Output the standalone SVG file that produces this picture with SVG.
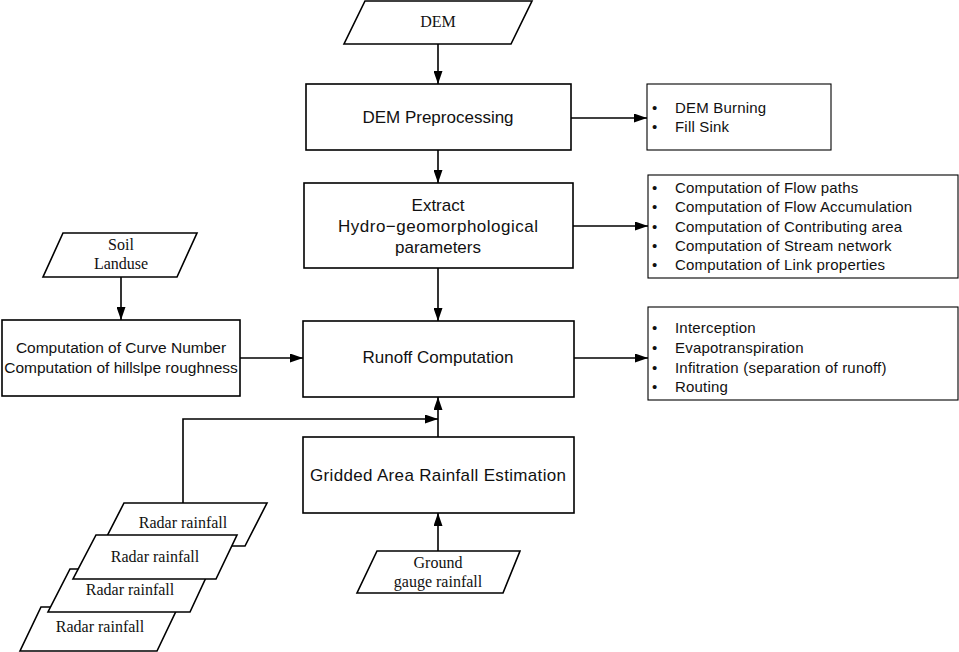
<svg xmlns="http://www.w3.org/2000/svg" width="959" height="652" viewBox="0 0 959 652">
<style>
.box{fill:#fff;stroke:#000;stroke-width:1.6}
.lst{fill:#fff;stroke:#000;stroke-width:1.1}
.sans{font-family:"Liberation Sans",Arial,sans-serif;font-size:17px;fill:#111;text-anchor:middle}
.item{font-family:"Liberation Sans",Arial,sans-serif;font-size:15px;letter-spacing:0.2px;fill:#111}
.ser{font-family:"Liberation Serif","Times New Roman",serif;font-size:16px;fill:#111;text-anchor:middle}
.con{fill:none;stroke:#000;stroke-width:1.6}
</style>
<defs>
<marker id="ah" viewBox="0 0 13 9" refX="13" refY="4.5" markerWidth="13" markerHeight="9" markerUnits="userSpaceOnUse" orient="auto">
<path d="M0,0 L13,4.5 L0,9 Z" fill="#000"/>
</marker>
</defs>
<g id="connectors">
<path class="con" d="M438,44 V84" marker-end="url(#ah)"/>
<path class="con" d="M438,150 V183" marker-end="url(#ah)"/>
<path class="con" d="M438,268 V321" marker-end="url(#ah)"/>
<path class="con" d="M571,118 H647" marker-end="url(#ah)"/>
<path class="con" d="M573,226 H648" marker-end="url(#ah)"/>
<path class="con" d="M574,358 H648" marker-end="url(#ah)"/>
<path class="con" d="M121,277 V320" marker-end="url(#ah)"/>
<path class="con" d="M240,358 H303" marker-end="url(#ah)"/>
<path class="con" d="M438,437 V397" marker-end="url(#ah)"/>
<path class="con" d="M183,503 V419 H438" marker-end="url(#ah)"/>
<path class="con" d="M438,551 V513" marker-end="url(#ah)"/>
</g>
<g id="dem">
<polygon class="box" points="365,1 532,1 511,44 344,44"/>
<text class="ser" x="438" y="27">DEM</text>
</g>
<g id="dem-preprocessing">
<rect class="box" x="306" y="84" width="265" height="66"/>
<text class="sans" x="438" y="123">DEM Preprocessing</text>
</g>
<g id="list-dem">
<rect class="lst" x="647" y="84" width="184" height="66"/>
<text class="item" x="652" y="113">•</text><text class="item" x="675" y="113">DEM Burning</text>
<text class="item" x="652" y="132">•</text><text class="item" x="675" y="132">Fill Sink</text>
</g>
<g id="extract">
<rect class="box" x="304" y="183" width="269" height="85"/>
<text class="sans" x="438" y="211">Extract</text>
<text class="sans" x="438" y="232" textLength="200" lengthAdjust="spacing">Hydro−geomorphological</text>
<text class="sans" x="438" y="253">parameters</text>
</g>
<g id="list-extract">
<rect class="lst" x="648" y="175" width="310" height="103"/>
<text class="item" x="652" y="193">•</text><text class="item" x="675" y="193">Computation of Flow paths</text>
<text class="item" x="652" y="212">•</text><text class="item" x="675" y="212">Computation of Flow Accumulation</text>
<text class="item" x="652" y="232">•</text><text class="item" x="675" y="232">Computation of Contributing area</text>
<text class="item" x="652" y="251">•</text><text class="item" x="675" y="251">Computation of Stream network</text>
<text class="item" x="652" y="270">•</text><text class="item" x="675" y="270">Computation of Link properties</text>
</g>
<g id="soil">
<polygon class="box" points="63,233 197,233 177,277 43,277"/>
<text class="ser" x="121" y="250">Soil</text>
<text class="ser" x="121" y="269">Landuse</text>
</g>
<g id="curve-number">
<rect class="box" x="2" y="320" width="238" height="76"/>
<text class="sans" x="121" y="353" style="font-size:15.5px">Computation of Curve Number</text>
<text class="sans" x="121" y="373" style="font-size:15.5px">Computation of hillslpe roughness</text>
</g>
<g id="runoff">
<rect class="box" x="303" y="321" width="271" height="76"/>
<text class="sans" x="438" y="363">Runoff Computation</text>
</g>
<g id="list-runoff">
<rect class="lst" x="648" y="307" width="310" height="93"/>
<text class="item" x="652" y="333">•</text><text class="item" x="675" y="333">Interception</text>
<text class="item" x="652" y="353">•</text><text class="item" x="675" y="353">Evapotranspiration</text>
<text class="item" x="652" y="373">•</text><text class="item" x="675" y="373">Infitration (separation of runoff)</text>
<text class="item" x="652" y="392">•</text><text class="item" x="675" y="392">Routing</text>
</g>
<g id="gridded">
<rect class="box" x="303" y="437" width="271" height="76"/>
<text class="sans" x="438" y="481" textLength="256" lengthAdjust="spacing">Gridded Area Rainfall Estimation</text>
</g>
<g id="ground">
<polygon class="box" points="377,551 520,551 503,593 357,593"/>
<text class="ser" x="438" y="568">Ground</text>
<text class="ser" x="438" y="587">gauge rainfall</text>
</g>
<g id="radar-4">
<polygon class="box" points="41,607 178,607 157,651 20,651"/>
<text class="ser" x="100" y="632">Radar rainfall</text>
</g>
<g id="radar-3">
<polygon class="box" points="70,569 210,569 190,612 48,612"/>
<text class="ser" x="130" y="595">Radar rainfall</text>
</g>
<g id="radar-1">
<polygon class="box" points="124,503 267,503 245,546 102,546"/>
<text class="ser" x="183" y="528">Radar rainfall</text>
</g>
<g id="radar-2">
<polygon class="box" points="96,535 237,535 216,579 73,579"/>
<text class="ser" x="155" y="562">Radar rainfall</text>
</g>
</svg>
